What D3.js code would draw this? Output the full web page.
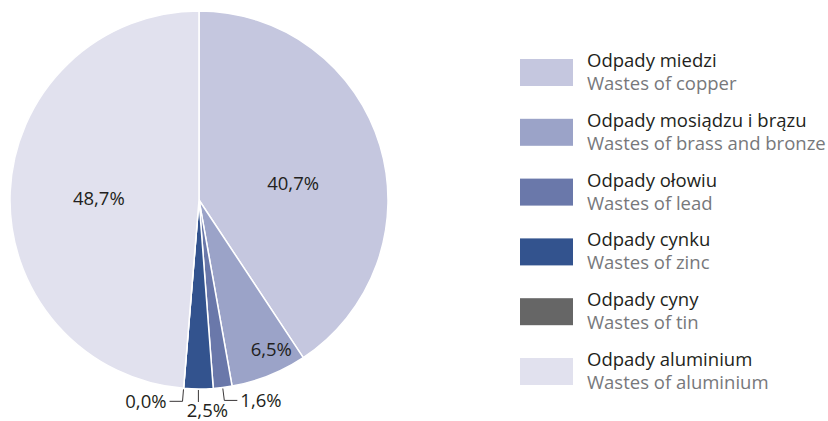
<!DOCTYPE html>
<html>
<head>
<meta charset="utf-8">
<script src="https://cdn.jsdelivr.net/npm/d3@7"></script>
<style>
  body { margin: 0; background: #fff; }
  svg text { font-family: "Open Sans", sans-serif; }
</style>
</head>
<body>
<svg id="chart"></svg>
<script>
const width = 828;
const height = 421;

// values in %, clockwise from 12 o'clock
const namesPl = ["Odpady miedzi", "Odpady mosiądzu i brązu", "Odpady ołowiu", "Odpady cynku", "Odpady cyny", "Odpady aluminium"];
const namesEn = ["Wastes of copper", "Wastes of brass and bronze", "Wastes of lead", "Wastes of zinc", "Wastes of tin", "Wastes of aluminium"];
const shares = [40.7, 6.5, 1.6, 2.5, 0.0, 48.7];
const colors = ["#c5c7df", "#9ba3c8", "#6a78aa", "#33538e", "#666666", "#e1e1ee"];

const data = shares.map((v, i) => ({ pl: namesPl[i], en: namesEn[i], value: v, color: colors[i] }));

const svg = d3.select("#chart").attr("width", width).attr("height", height);

const cx = 199, cy = 200, r = 189;
const fmt = v => d3.format(".1f")(v).replace(".", ",") + "%";
const labelSize = 18.5;

const pie = d3.pie().sort(null).value(d => d.value);
const arcs = pie(data);
const arc = d3.arc().innerRadius(0).outerRadius(r);

const g = svg.append("g").attr("transform", `translate(${cx},${cy})`);

g.selectAll("path")
  .data(arcs)
  .join("path")
  .attr("d", arc)
  .attr("fill", d => d.data.color)
  .attr("stroke", "#fff")
  .attr("stroke-width", 1.5)
  .attr("stroke-linejoin", "round");

// point on a ray at angle a (d3 convention: 0 = up, clockwise)
const pt = (a, rad) => [Math.sin(a) * rad, -Math.cos(a) * rad];
const mid = d => (d.startAngle + d.endAngle) / 2;

// labels inside the big slices
const inside = arcs.filter(d => d.data.value >= 5);
const inPos = d => {
  const big = d.data.value > 20;
  const p = pt(mid(d), big ? r * 0.52 : r * 0.86);
  return big ? [p[0] + (d.index === 0 ? 0 : -2), p[1] + (d.index === 0 ? 12 : 3)] : [p[0] + 12, p[1] - 1];
};
g.selectAll("text.in")
  .data(inside)
  .join("text")
  .attr("class", "in")
  .attr("x", d => inPos(d)[0])
  .attr("y", d => inPos(d)[1])
  .attr("text-anchor", "middle")
  .attr("dy", "0.35em")
  .attr("font-size", labelSize)
  .attr("fill", "#231f20")
  .text(d => fmt(d.data.value));

// small slices: leader lines + labels outside
const outside = arcs.filter(d => d.data.value < 5);
outside.forEach(d => {
  const a = mid(d);
  const p0 = pt(a, r + 1);
  const p1 = pt(a, r + 13);
  const side = Math.abs(p1[0]) < 4 ? 0 : (p1[0] > 0 ? 1 : -1);
  let pts, tx, ty, anchor;
  if (side === 0) {
    pts = [p0, [p0[0], p1[1]]];
    tx = p0[0] + 9; ty = p1[1] + 15; anchor = "middle";
  } else {
    const p2 = [p1[0] + side * 13, p1[1]];
    pts = [p0, p1, p2];
    tx = p2[0] + side * 3; ty = p2[1] + 7; anchor = side > 0 ? "start" : "end";
  }
  g.append("path")
    .attr("d", d3.line()(pts))
    .attr("fill", "none")
    .attr("stroke", "#231f20")
    .attr("stroke-width", 0.9);
  g.append("text")
    .attr("x", tx)
    .attr("y", ty)
    .attr("text-anchor", anchor)
    .attr("font-size", labelSize)
    .attr("fill", "#231f20")
    .text(fmt(d.data.value));
});

// legend
const legend = svg.append("g").attr("transform", "translate(520,59)");
const item = legend.selectAll("g")
  .data(data)
  .join("g")
  .attr("transform", (d, i) => `translate(0,${i * 59.8})`);

item.append("rect")
  .attr("width", 53)
  .attr("height", 27)
  .attr("fill", d => d.color);

item.append("text")
  .attr("x", 67)
  .attr("y", 8)
  .attr("font-size", 18.5)
  .attr("fill", "#231f20")
  .text(d => d.pl);

item.append("text")
  .attr("x", 67)
  .attr("y", 31)
  .attr("font-size", 18.5)
  .attr("fill", "#77787b")
  .text(d => d.en);
</script>
</body>
</html>
